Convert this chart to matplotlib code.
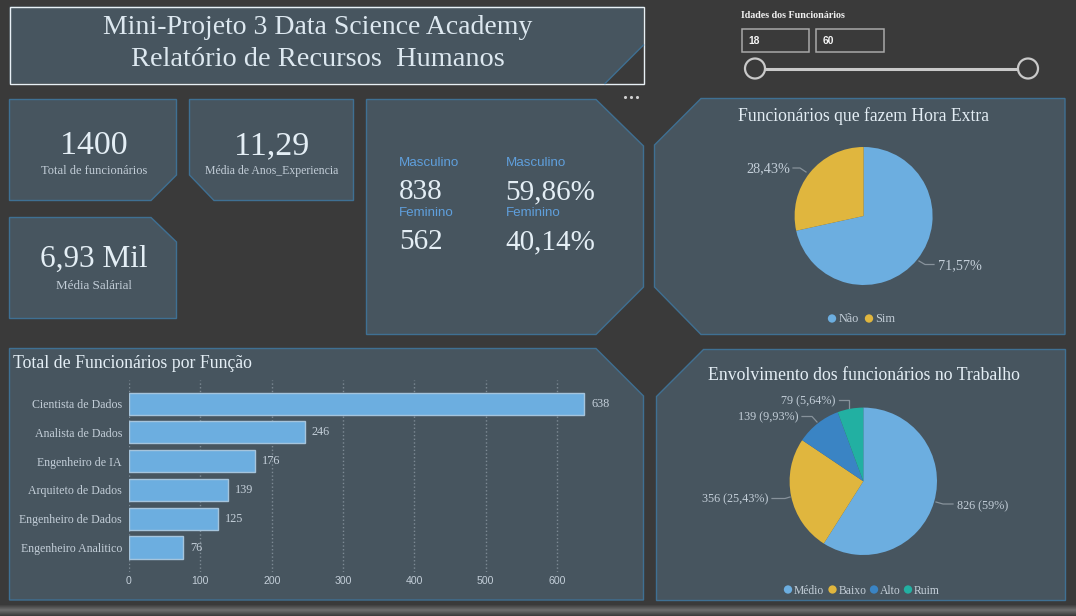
#!/usr/bin/env python
# painel de RH: paineis desenhados em pixels, graficos em eixos proprios
import numpy as np
import matplotlib
matplotlib.use('Agg')
import matplotlib.pyplot as plt
from matplotlib.patches import Polygon, Circle, Rectangle

W, H = 1076, 616
BG = '#3a3a3a'
PANEL = '#47555f'
EDGE = '#3f7093'
SERIF = 'Liberation Serif'
SANS = 'Liberation Sans'
LIGHT = '#e4eef5'
MUTED = '#c3ced8'
BLUE = '#6caee0'
YELLOW = '#e0b63e'

title_lines = ['Mini-Projeto 3 Data Science Academy', 'Relatório de Recursos  Humanos']
kpi_values = ['1400', '11,29', '6,93 Mil']
kpi_labels = ['Total de funcionários', 'Média de Anos_Experiencia', 'Média Salárial']
gender_names = ['Masculino', 'Feminino']
gender_counts = [838, 562]
gender_pcts = ['59,86%', '40,14%']
age_range = [18, 60]

roles = ['Cientista de Dados', 'Analista de Dados', 'Engenheiro de IA',
         'Arquiteto de Dados', 'Engenheiro de Dados', 'Engenheiro Analitico']
role_counts = [638, 246, 176, 139, 125, 76]
role_ticks = [0, 100, 200, 300, 400, 500, 600]

overtime_names = ['Não', 'Sim']
overtime_pcts = [71.57, 28.43]

engage_names = ['Médio', 'Baixo', 'Alto', 'Ruim']
engage_counts = [826, 356, 139, 79]
engage_pct_labels = ['59%', '25,43%', '9,93%', '5,64%']
engage_colors = [BLUE, YELLOW, '#3a84c4', '#22b0a2']

fig = plt.figure(figsize=(W / 100, H / 100), dpi=100, facecolor=BG)

# fundo em coordenadas de pixel
bg = fig.add_axes([0, 0, 1, 1])
bg.set_xlim(0, W)
bg.set_ylim(H, 0)
bg.axis('off')


def panel(pts, edge=EDGE, lw=1.0):
    bg.add_patch(Polygon(pts, closed=True, facecolor=PANEL, edgecolor=edge, linewidth=lw))


def txt(x, y, s, size, color=LIGHT, family=SERIF, ha='center', **kw):
    bg.text(x, y, s, fontsize=size, color=color, family=family, ha=ha, va='center', **kw)


def px_axes(x0, y0, x1, y1):
    return fig.add_axes([x0 / W, 1 - y1 / H, (x1 - x0) / W, (y1 - y0) / H])


# faixa inferior
grad = np.linspace(0, 1, 12).reshape(-1, 1)
bg.imshow(grad, extent=(0, W, 616, 604), cmap=matplotlib.colors.LinearSegmentedColormap.from_list(
    'faixa', ['#3a3a3a', '#6e6e6e', '#3c3c3c']), aspect='auto', zorder=0)
bg.set_xlim(0, W)
bg.set_ylim(H, 0)

# titulo
panel([(9.5, 6.5), (643.5, 6.5), (643.5, 45), (605, 83.5), (9.5, 83.5)], edge='none')
bg.plot([643.5, 605], [45, 83.5], color=EDGE, lw=1.0)
bg.add_patch(Rectangle((9.5, 6.5), 634, 77, facecolor='none', edgecolor='#e8f0f5', linewidth=1.0))
txt(318, 28, title_lines[0], 20, color='#dde8f0')
txt(318, 59.5, title_lines[1], 20.4, color='#dde8f0')

# cartoes
panel([(9.5, 99.5), (176.5, 99.5), (176.5, 175), (151, 200.5), (9.5, 200.5)])
panel([(189.5, 99.5), (353.5, 99.5), (353.5, 200.5), (214, 200.5), (189.5, 175)])
panel([(9.5, 217.5), (151, 217.5), (176.5, 242), (176.5, 318.5), (9.5, 318.5)])
txt(94, 146, kpi_values[0], 24.5)
txt(94, 170.5, kpi_labels[0], 9, color=MUTED)
txt(272, 146, kpi_values[1], 24.5)
txt(272, 171, kpi_labels[1], 8.5, color=MUTED)
txt(94, 259, kpi_values[2], 22.5)
txt(94, 286, kpi_labels[2], 9.4, color=MUTED)

# genero
panel([(366.5, 99.5), (596, 99.5), (643.5, 146), (643.5, 287), (596, 334.5), (366.5, 334.5)])
for i in range(2):
    y_off = 50 * i
    txt(399, 162.5 + y_off, gender_names[i], 9.6, color='#5f9fdc', family=SANS, ha='left')
    txt(399, 192 + y_off, str(gender_counts[i]), 21, ha='left')
    txt(505.5, 162.5 + y_off, gender_names[i], 9.6, color='#5f9fdc', family=SANS, ha='left')
    txt(505.5, 192 + y_off, gender_pcts[i], 21, ha='left')
bg.scatter([625, 631, 637], [97, 97, 97], s=5, color='#d0d0d0', linewidths=0)

# filtro de idade
txt(741, 16, 'Idades dos Funcionários', 7.2, color='#f0f0f0', ha='left', fontweight='bold')
for x0, x1, v in [(741.5, 809, age_range[0]), (815.5, 884, age_range[1])]:
    bg.add_patch(Rectangle((x0, 28.5), x1 - x0, 23.5, facecolor=BG, edgecolor='#a8a8a8', linewidth=1.1))
    txt(x0 + 7, 40.5, str(v), 7.4, color='#f5f5f5', family=SANS, ha='left', fontweight='bold')
bg.plot([755, 1028], [68.5, 68.5], color='#c9c9c9', lw=2.2, solid_capstyle='butt')
for cx in (755, 1028):
    bg.add_patch(Circle((cx, 68.5), 10, facecolor=BG, edgecolor='#c9c9c9', linewidth=1.6, zorder=3))

# paineis dos graficos
panel([(701, 98.5), (1065, 98.5), (1065, 334.5), (701, 334.5), (654.5, 287), (654.5, 145)])
panel([(9.5, 348.5), (596, 348.5), (643.5, 396), (643.5, 600), (9.5, 600)])
panel([(703, 348.5), (1065, 348.5), (1065, 600), (655.5, 600), (655.5, 396)])

txt(864, 116, 'Funcionários que fazem Hora Extra', 12.7, ha='center')
txt(13, 363, 'Total de Funcionários por Função', 12.8, ha='left')
txt(864, 375, 'Envolvimento dos funcionários no Trabalho', 12.8, ha='center')

# barras por funcao
ax = px_axes(129, 380, 632, 572)
ax.patch.set_alpha(0)
ypos = np.arange(len(roles))
ax.barh(ypos, role_counts, height=0.77, color=BLUE, edgecolor='#a5c4dc', linewidth=1.0, zorder=3)
ax.set_ylim(len(roles) - 1 + 0.85, -0.82)
ax.set_xlim(0, 503 / 0.7135)
ax.set_xticks(role_ticks)
ax.set_yticks(ypos)
ax.set_yticklabels(roles, family=SERIF, fontsize=8.6, color=MUTED)
ax.tick_params(axis='both', length=0)
ax.tick_params(axis='y', pad=5)
ax.tick_params(axis='x', pad=3, labelsize=7.6, labelcolor=MUTED)
for lab in ax.get_xticklabels():
    lab.set_family(SANS)
ax.grid(axis='x', linestyle=':', color='#7d8a94', linewidth=1.0, zorder=0)
for s in ax.spines.values():
    s.set_visible(False)
for y, v in zip(ypos, role_counts):
    ax.annotate(str(v), (v, y), xytext=(5, 0), textcoords='offset points', va='center',
                family=SERIF, fontsize=8.8, color=MUTED)

# pizza hora extra
ax1 = px_axes(863.6 - 69, 216 - 69, 863.6 + 69, 216 + 69)
ax1.pie(overtime_pcts, colors=[BLUE, YELLOW], startangle=90, counterclock=False, radius=1.0,
        wedgeprops={'linewidth': 0})
ax1.set_xlim(-1, 1)
ax1.set_ylim(-1, 1)
bg.plot([793, 800, 806], [168, 168, 172], color='#87929b', lw=0.9)
bg.plot([919, 925, 934], [261, 264.5, 264.5], color='#87929b', lw=0.9)
txt(790, 168.5, f'{overtime_pcts[1]:.2f}%'.replace('.', ','), 10.3, color=MUTED, ha='right')
txt(938, 265.5, f'{overtime_pcts[0]:.2f}%'.replace('.', ','), 10.3, color=MUTED, ha='left')
bg.scatter([832, 869], [318.5, 318.5], s=36, color=[BLUE, YELLOW], linewidths=0)
txt(839, 319, overtime_names[0], 8.8, color=MUTED, ha='left')
txt(875.5, 319, overtime_names[1], 8.8, color=MUTED, ha='left')

# pizza envolvimento
ax2 = px_axes(863.3 - 73.7, 481.3 - 73.7, 863.3 + 73.7, 481.3 + 73.7)
ax2.pie(engage_counts, colors=engage_colors, startangle=90, counterclock=False, radius=1.0,
        wedgeprops={'linewidth': 0})
ax2.set_xlim(-1, 1)
ax2.set_ylim(-1, 1)
bg.plot([936, 943, 953], [502, 504, 504], color='#87929b', lw=0.9)
bg.plot([772, 785, 790], [498.5, 498.5, 497], color='#87929b', lw=0.9)
bg.plot([802, 812, 817], [416.5, 416.5, 422], color='#87929b', lw=0.9)
bg.plot([839, 849, 849], [399.5, 399.5, 408], color='#87929b', lw=0.9)
lab_xy = [(957, 506, 'left'), (768, 499.5, 'right'), (798.5, 417, 'right'), (835, 401, 'right')]
for (x, y, ha), n, p in zip(lab_xy, engage_counts, engage_pct_labels):
    txt(x, y, f'{n} ({p})', 8.7, color=MUTED, ha=ha)
leg_x = [788, 832.5, 874, 908]
bg.scatter(leg_x, [589.5] * 4, s=36, color=engage_colors, linewidths=0)
for x, name in zip(leg_x, engage_names):
    txt(x + 6, 590.5, name, 8.4, color=MUTED, ha='left')

fig.savefig('out.png', dpi=100, facecolor=BG)
